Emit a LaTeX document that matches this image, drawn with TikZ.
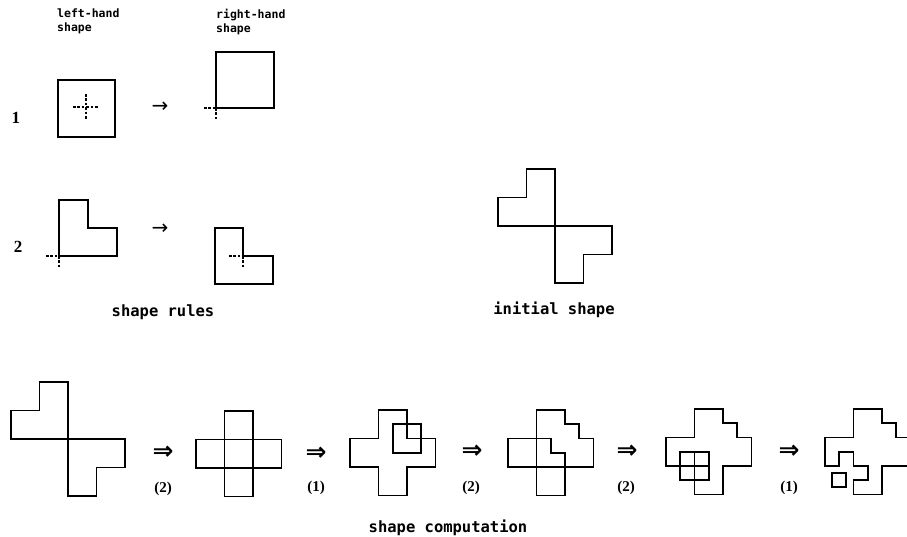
\documentclass[tikz,border=0pt]{standalone}
\usepackage{fontspec}
\setmainfont{Liberation Serif}
\newfontfamily\codefont{DejaVu Sans Mono}
\newfontfamily\arrowfont{DejaVu Sans}
\begin{document}
\begin{tikzpicture}[x=1pt,y=-1pt,
  outline/.style={line width=1.8pt, line join=miter},
  marker/.style={line width=1.3pt, dash pattern=on 2.6pt off 1.8pt},
  caption/.style={font=\codefont\bfseries\fontsize{15.5}{17}\selectfont, inner sep=0pt},
  header/.style={anchor=north west, align=left, inner sep=0pt,
                 font=\codefont\bfseries\fontsize{11.5}{14}\selectfont},
  rulenum/.style={font=\bfseries\fontsize{17}{18}\selectfont, inner sep=0pt},
  ruleref/.style={font=\bfseries\fontsize{15}{16}\selectfont, inner sep=0pt},
  yields/.style={font=\arrowfont\fontsize{20}{20}\selectfont, inner sep=0pt},
  derives/.style={font=\arrowfont\bfseries\fontsize{25}{25}\selectfont, inner sep=0pt}]
\useasboundingbox (0,0) rectangle (907,537);
\clip (0,0) rectangle (907,537);

% ---- column headers ----
\node[header] (lhs) at (57,9)  {left-hand\\shape};
\node[header] (rhs) at (216,9) {right-hand\\shape};

% ---- rule 1: square with centre marker -> square cornered at marker ----
\node[rulenum] (n1) at (16,118) {1};
\draw[outline] (58,80) rectangle (115,137);
\draw[marker] (73,107) -- (99,107);
\draw[marker] (86,94) -- (86,120);
\node[yields] (y1) at (160,107) {→};
\draw[outline] (216,52) rectangle (274,108);
\draw[marker] (204,108) -- (216,108);
\draw[marker] (216,108) -- (216,121);

% ---- rule 2: L shape -> L shape ----
\node[rulenum] (n2) at (18,247) {2};
\draw[outline] (59,200) -- (88,200) -- (88,228) -- (117,228) -- (117,256) -- (59,256) -- cycle;
\draw[marker] (46,256) -- (59,256);
\draw[marker] (59,256) -- (59,269);
\node[yields] (y2) at (160,229) {→};
\draw[outline] (215,228) -- (243,228) -- (243,256) -- (273,256) -- (273,284) -- (215,284) -- cycle;
\draw[marker] (229,256) -- (243,256);
\draw[marker] (243,256) -- (243,268);

\node[caption] (rulescap) at (163,312) {shape rules};

% ---- initial shape ----
\begin{scope}[shift={(498,169)}, x=28.5pt, y=-28.5pt]
  \draw[outline] (1,0) -- (2,0) -- (2,2) -- (4,2) -- (4,3) -- (3,3) -- (3,4) -- (2,4)
                 -- (2,2) -- (0,2) -- (0,1) -- (1,1) -- cycle;
\end{scope}
\node[caption] (initcap) at (554,310) {initial shape};

% ---- shape computation ----
% step 0
\begin{scope}[shift={(11,382)}, x=28.5pt, y=-28.5pt]
  \draw[outline] (1,0) -- (2,0) -- (2,2) -- (4,2) -- (4,3) -- (3,3) -- (3,4) -- (2,4)
                 -- (2,2) -- (0,2) -- (0,1) -- (1,1) -- cycle;
\end{scope}
\node[derives] (d1) at (163,453) {⇒};
\node[ruleref] (r1) at (163,489) {(2)};

% step 1
\begin{scope}[shift={(196,411)}, x=28.5pt, y=-28.5pt]
  \draw[outline] (1,0) rectangle (2,3);
  \draw[outline] (0,1) rectangle (3,2);
\end{scope}
\node[derives] (d2) at (316,454) {⇒};
\node[ruleref] (r2) at (316,488) {(1)};

% step 2
\begin{scope}[shift={(350,410)}, x=28.5pt, y=-28.5pt]
  \draw[outline] (1,0) -- (2,0) -- (2,1) -- (3,1) -- (3,2) -- (2,2) -- (2,3) -- (1,3)
                 -- (1,2) -- (0,2) -- (0,1) -- (1,1) -- cycle;
  \draw[outline] (1.5,0.5) rectangle (2.5,1.5);
\end{scope}
\node[derives] (d3) at (472,452) {⇒};
\node[ruleref] (r3) at (471,488) {(2)};

% step 3
\begin{scope}[shift={(508,410)}, x=28.5pt, y=-28.5pt]
  \draw[outline] (1,0) -- (2,0) -- (2,0.5) -- (2.5,0.5) -- (2.5,1) -- (3,1) -- (3,2)
                 -- (2,2) -- (2,3) -- (1,3) -- (1,2) -- (0,2) -- (0,1) -- (1,1) -- cycle;
  \draw[outline] (1,1) -- (1,2) -- (2,2);
  \draw[outline] (1,1) -- (1.5,1) -- (1.5,1.5) -- (2,1.5) -- (2,2);
\end{scope}
\node[derives] (d4) at (627,452) {⇒};
\node[ruleref] (r4) at (626,488) {(2)};

% step 4
\begin{scope}[shift={(666,409)}, x=28.5pt, y=-28.5pt]
  \draw[outline] (1,0) -- (2,0) -- (2,0.5) -- (2.5,0.5) -- (2.5,1) -- (3,1) -- (3,2)
                 -- (2,2) -- (2,3) -- (1,3) -- (1,2) -- (0,2) -- (0,1) -- (1,1) -- cycle;
  \draw[outline] (0.5,1.5) rectangle (1.5,2.5);
  \draw[outline] (1,1.5) -- (1,2.5);
  \draw[outline] (0.5,2) -- (1.5,2);
\end{scope}
\node[derives] (d5) at (789,452) {⇒};
\node[ruleref] (r5) at (789,488) {(1)};

% step 5
\begin{scope}[shift={(825,409)}, x=28.5pt, y=-28.5pt]
  \draw[outline] (1,0) -- (2,0) -- (2,0.5) -- (2.5,0.5) -- (2.5,1) -- (3,1) -- (3,2)
                 -- (2,2) -- (2,3) -- (1,3) -- (1,2.5) -- (1.5,2.5) -- (1.5,2) -- (1,2)
                 -- (1,1.5) -- (0.5,1.5) -- (0.5,2) -- (0,2) -- (0,1) -- (1,1) -- cycle;
  \draw[outline] (0.25,2.25) rectangle (0.75,2.75);
\end{scope}

\node[caption] (compcap) at (448,528) {shape computation};
\end{tikzpicture}
\end{document}
